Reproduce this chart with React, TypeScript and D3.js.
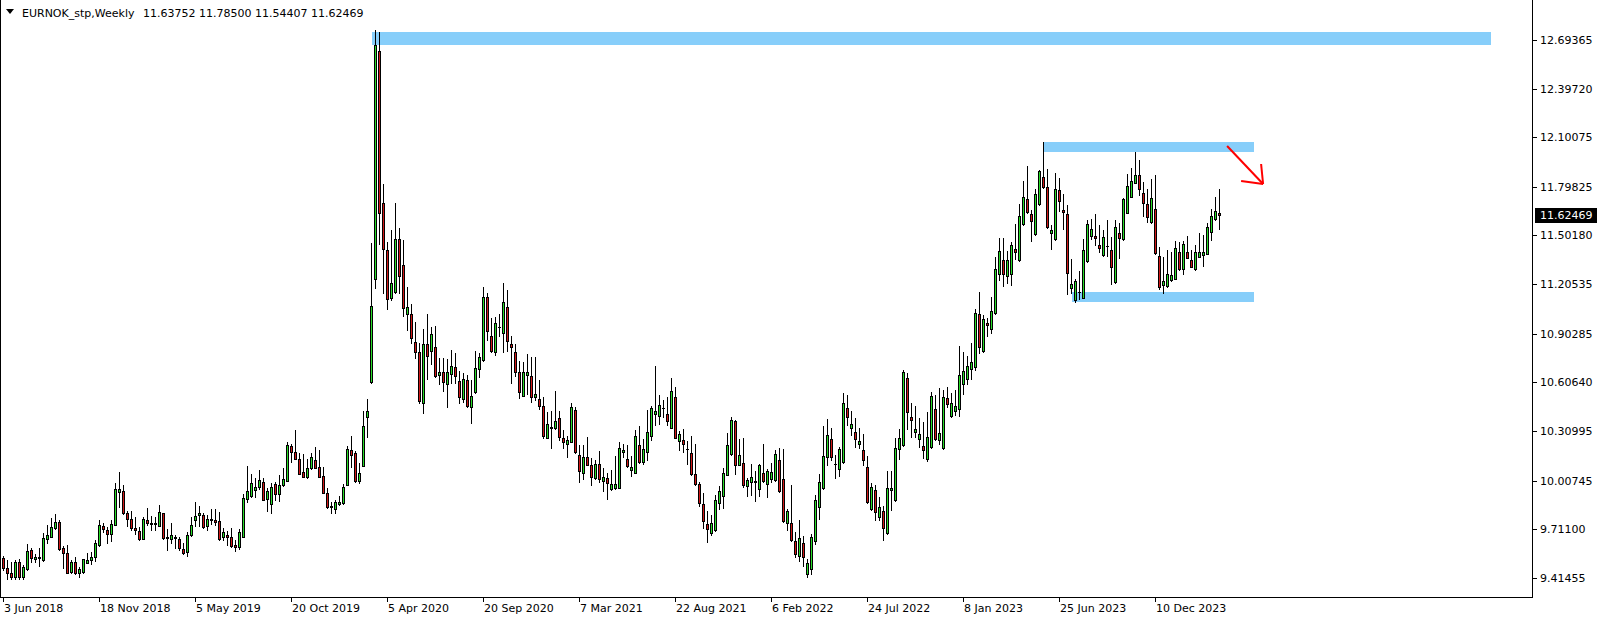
import React from 'react';
import * as d3 from 'd3';

const OPEN = [9.534,9.473,9.443,9.423,9.510,9.423,9.469,9.583,9.528,9.536,9.524,9.650,9.666,9.717,9.754,9.595,9.565,9.453,9.514,9.443,9.449,9.508,9.522,9.540,9.614,9.731,9.705,9.681,9.740,9.941,9.943,9.809,9.772,9.717,9.701,9.654,9.768,9.750,9.746,9.734,9.809,9.658,9.650,9.660,9.650,9.589,9.571,9.675,9.768,9.798,9.796,9.733,9.770,9.766,9.760,9.666,9.677,9.662,9.616,9.605,9.666,9.894,9.916,9.953,9.971,9.997,9.894,9.868,9.987,9.928,9.979,10.008,10.219,10.182,10.140,10.060,10.032,10.085,10.136,10.091,10.034,9.933,9.853,9.837,9.866,9.870,9.983,10.195,10.174,10.008,10.099,10.398,10.611,11.235,12.626,11.702,11.413,11.123,11.159,11.478,11.322,11.021,11.021,10.851,10.790,10.483,10.841,10.800,10.820,10.649,10.672,10.597,10.656,10.698,10.615,10.503,10.621,10.455,10.546,10.686,10.743,11.125,10.889,10.794,10.942,10.906,11.068,10.840,10.790,10.668,10.526,10.652,10.643,10.516,10.505,10.463,10.270,10.330,10.327,10.388,10.266,10.233,10.245,10.438,10.164,10.056,10.150,10.103,10.024,10.109,10.008,10.022,9.959,9.965,9.965,10.182,10.140,10.075,10.056,10.223,10.121,10.180,10.282,10.412,10.404,10.450,10.414,10.331,10.516,10.251,10.256,10.203,10.176,10.046,9.987,9.865,9.744,9.687,9.707,9.874,9.916,10.044,10.170,10.371,10.105,10.115,9.977,9.998,10.002,9.959,10.052,9.985,10.020,10.014,10.134,10.018,9.752,9.748,9.638,9.550,9.626,9.440,9.470,9.640,9.845,9.961,10.150,10.262,10.107,10.077,10.123,10.448,10.327,10.302,10.229,10.195,10.091,9.837,9.949,9.788,9.821,9.687,9.949,9.890,10.199,10.223,10.631,10.394,10.302,10.264,10.219,10.138,10.211,10.444,10.256,10.205,10.511,10.402,10.432,10.442,10.595,10.625,10.690,10.698,11.021,10.800,10.968,10.930,11.027,11.269,11.350,11.257,11.265,11.419,11.350,11.574,11.722,11.631,11.509,11.692,11.856,11.795,11.515,11.478,11.777,11.659,11.631,11.180,11.109,11.155,11.123,11.346,11.501,11.499,11.444,11.385,11.436,11.413,11.216,11.515,11.480,11.641,11.738,11.824,11.870,11.761,11.694,11.582,11.661,11.377,11.198,11.194,11.230,11.239,11.399,11.296,11.399,11.352,11.296,11.373,11.383,11.391,11.521,11.600,11.63752];
const HIGH = [9.548,9.524,9.514,9.524,9.530,9.492,9.622,9.595,9.561,9.595,9.687,9.738,9.778,9.805,9.768,9.612,9.614,9.524,9.545,9.484,9.530,9.565,9.575,9.646,9.768,9.748,9.727,9.768,9.993,10.061,9.979,9.823,9.823,9.788,9.727,9.788,9.841,9.792,9.788,9.862,9.813,9.713,9.748,9.677,9.666,9.626,9.697,9.788,9.878,9.855,9.811,9.796,9.835,9.835,9.817,9.717,9.703,9.719,9.646,9.711,9.924,10.097,10.050,10.022,10.073,10.022,9.965,9.995,10.002,10.042,10.083,10.245,10.231,10.316,10.174,10.170,10.140,10.174,10.211,10.195,10.089,9.961,9.880,9.890,9.914,9.987,10.217,10.280,10.191,10.113,10.432,10.503,11.458,12.754,12.744,11.813,11.464,11.535,11.702,11.545,11.474,11.190,11.084,10.977,10.849,10.932,11.023,10.942,10.950,10.753,10.753,10.749,10.804,10.788,10.678,10.662,10.652,10.621,10.800,10.784,11.190,11.153,10.997,11.007,11.023,11.214,11.170,10.889,10.838,10.737,10.733,10.780,10.759,10.763,10.621,10.520,10.426,10.432,10.554,10.432,10.316,10.280,10.479,10.459,10.225,10.225,10.272,10.144,10.134,10.188,10.083,10.052,10.073,10.158,10.243,10.231,10.223,10.158,10.316,10.341,10.260,10.438,10.463,10.707,10.530,10.499,10.516,10.631,10.578,10.312,10.323,10.249,10.278,10.231,10.002,9.930,9.823,9.796,9.920,9.977,10.085,10.296,10.398,10.375,10.264,10.266,10.022,10.107,10.069,10.109,10.231,10.077,10.117,10.193,10.207,10.203,9.833,9.979,9.697,9.768,9.670,9.530,9.680,9.920,10.046,10.341,10.383,10.327,10.164,10.211,10.544,10.530,10.434,10.388,10.327,10.292,10.158,9.995,9.981,9.910,9.853,10.067,10.069,10.270,10.323,10.682,10.662,10.479,10.463,10.388,10.367,10.428,10.546,10.530,10.570,10.560,10.578,10.540,10.560,10.828,10.790,10.767,10.844,11.052,11.155,11.017,11.001,11.127,11.371,11.486,11.484,11.407,11.462,11.572,11.694,11.832,11.925,11.657,11.785,11.901,12.071,11.905,11.566,11.880,11.850,11.754,11.688,11.356,11.239,11.285,11.480,11.596,11.602,11.633,11.566,11.535,11.596,11.495,11.596,11.576,11.728,11.876,11.911,12.013,11.962,11.830,11.783,11.844,11.870,11.434,11.373,11.413,11.401,11.466,11.464,11.470,11.499,11.413,11.444,11.515,11.505,11.580,11.661,11.734,11.78500];
const LOW = [9.463,9.406,9.406,9.406,9.406,9.406,9.463,9.514,9.514,9.490,9.520,9.630,9.662,9.711,9.585,9.477,9.443,9.447,9.437,9.423,9.447,9.504,9.500,9.518,9.610,9.697,9.630,9.642,9.736,9.849,9.805,9.734,9.707,9.683,9.646,9.650,9.736,9.707,9.707,9.734,9.652,9.585,9.626,9.599,9.585,9.559,9.551,9.670,9.734,9.733,9.717,9.707,9.742,9.738,9.646,9.646,9.616,9.605,9.581,9.591,9.662,9.880,9.906,9.906,9.959,9.890,9.825,9.809,9.892,9.884,9.975,10.006,10.123,10.138,10.046,10.028,10.026,10.081,10.083,10.028,9.930,9.841,9.813,9.813,9.859,9.866,9.979,10.093,10.002,9.995,10.095,10.276,10.605,11.184,11.448,11.153,11.052,11.109,11.153,11.149,11.011,10.926,10.849,10.757,10.483,10.422,10.625,10.717,10.641,10.597,10.556,10.459,10.605,10.601,10.483,10.489,10.455,10.361,10.540,10.641,10.739,10.865,10.794,10.774,10.889,10.794,10.800,10.605,10.646,10.509,10.524,10.536,10.489,10.499,10.442,10.266,10.266,10.209,10.323,10.256,10.205,10.150,10.241,10.178,10.002,10.016,10.101,9.981,10.016,9.999,9.947,9.894,9.951,9.955,9.961,10.154,10.089,10.036,10.052,10.117,10.109,10.134,10.256,10.347,10.353,10.398,10.347,10.327,10.266,10.195,10.184,10.111,10.042,9.981,9.853,9.717,9.636,9.677,9.703,9.833,9.839,10.040,10.164,10.048,10.101,9.971,9.914,9.918,9.884,9.914,10.000,9.910,10.002,10.008,9.941,9.758,9.707,9.642,9.540,9.520,9.490,9.420,9.440,9.620,9.772,9.957,10.103,10.134,10.022,10.036,10.113,10.347,10.286,10.211,10.205,10.103,9.870,9.829,9.768,9.768,9.646,9.683,9.829,9.886,10.138,10.219,10.320,10.276,10.276,10.215,10.144,10.130,10.207,10.256,10.231,10.203,10.459,10.393,10.408,10.402,10.536,10.597,10.629,10.682,10.784,10.794,10.889,10.909,11.023,11.230,11.194,11.210,11.200,11.356,11.348,11.566,11.637,11.470,11.505,11.688,11.791,11.545,11.417,11.474,11.653,11.543,11.143,11.149,11.094,11.113,11.119,11.342,11.478,11.444,11.403,11.377,11.377,11.204,11.210,11.367,11.474,11.637,11.734,11.820,11.748,11.623,11.586,11.580,11.389,11.178,11.149,11.190,11.226,11.235,11.294,11.267,11.363,11.308,11.291,11.369,11.318,11.389,11.474,11.596,11.54407];
const CLOSE = [9.473,9.447,9.423,9.510,9.423,9.480,9.577,9.538,9.542,9.540,9.656,9.677,9.725,9.754,9.589,9.569,9.447,9.510,9.443,9.469,9.528,9.522,9.545,9.626,9.736,9.715,9.681,9.742,9.955,9.955,9.809,9.776,9.717,9.707,9.654,9.772,9.752,9.746,9.748,9.815,9.656,9.664,9.675,9.664,9.595,9.565,9.675,9.736,9.792,9.809,9.723,9.774,9.774,9.756,9.654,9.693,9.666,9.612,9.605,9.695,9.902,9.943,9.991,9.969,10.012,9.892,9.945,9.967,9.928,9.981,10.020,10.225,10.184,10.142,10.050,10.030,10.085,10.152,10.087,10.032,9.935,9.845,9.849,9.876,9.876,9.967,10.201,10.166,10.004,10.052,10.339,10.434,11.072,12.663,11.641,11.421,11.113,11.210,11.478,11.255,11.058,11.064,10.879,10.794,10.495,10.841,10.767,10.902,10.645,10.668,10.611,10.668,10.706,10.645,10.520,10.625,10.465,10.524,10.692,10.759,11.125,10.922,10.800,10.966,10.946,11.094,10.861,10.824,10.672,10.550,10.668,10.668,10.516,10.534,10.465,10.282,10.351,10.334,10.369,10.272,10.245,10.256,10.455,10.184,10.069,10.150,10.105,10.028,10.109,10.020,10.028,9.991,9.987,9.985,10.205,10.195,10.099,10.089,10.278,10.123,10.201,10.302,10.449,10.432,10.467,10.452,10.373,10.554,10.270,10.290,10.233,10.201,10.048,9.987,9.874,9.764,9.715,9.748,9.890,9.945,10.054,10.225,10.377,10.105,10.164,9.983,10.010,10.030,10.006,10.101,10.004,10.067,10.058,10.168,9.947,9.762,9.821,9.646,9.560,9.656,9.540,9.508,9.662,9.890,9.998,10.158,10.286,10.154,10.109,10.201,10.479,10.394,10.353,10.264,10.249,10.132,9.876,9.969,9.815,9.845,9.721,9.961,9.963,10.205,10.266,10.668,10.428,10.375,10.320,10.290,10.193,10.274,10.522,10.260,10.298,10.520,10.473,10.479,10.463,10.650,10.676,10.704,10.731,11.027,10.824,10.991,10.954,11.040,11.295,11.405,11.269,11.350,11.442,11.403,11.618,11.734,11.643,11.592,11.753,11.895,11.795,11.553,11.533,11.783,11.710,11.643,11.275,11.206,11.226,11.159,11.411,11.570,11.541,11.489,11.423,11.490,11.440,11.308,11.551,11.484,11.722,11.803,11.834,11.870,11.787,11.702,11.612,11.728,11.393,11.186,11.224,11.265,11.259,11.425,11.298,11.448,11.367,11.312,11.399,11.401,11.399,11.551,11.621,11.651,11.62469];

const Y_TICKS = [12.69365, 12.39720, 12.10075, 11.79825, 11.50180, 11.20535, 10.90285, 10.60640, 10.30995, 10.00745, 9.71100, 9.41455];
const X_TICK_LABELS = ['3 Jun 2018', '18 Nov 2018', '5 May 2019', '20 Oct 2019', '5 Apr 2020', '20 Sep 2020', '7 Mar 2021', '22 Aug 2021', '6 Feb 2022', '24 Jul 2022', '8 Jan 2023', '25 Jun 2023', '10 Dec 2023'];
const X_TICK_BARS = [0, 24, 48, 72, 96, 120, 144, 168, 192, 216, 240, 264, 288];

const ZONE_FROM = [92, 260, 267];
const ZONE_TO = [371.8, 312.7, 312.7];
const ZONE_TOP = [12.742, 12.071, 11.157];
const ZONE_BOTTOM = [12.663, 12.0105, 11.0965];

const ARROW_FROM = { bar: 305.9, price: 12.047 };
const ARROW_TO = { bar: 314.9, price: 11.8155 };

const SYMBOL = 'EURNOK_stp,Weekly';
const LAST_BAR = [11.63752, 11.785, 11.54407, 11.62469];

const W = 1604;
const H = 621;
const FRAME_RIGHT = 1532;
const FRAME_BOTTOM = 597;
const FONT = 'DejaVu Sans, Verdana, sans-serif';
const BULL = '#28dc28';
const BEAR = '#d01818';
const ZONE = '#87cefa';

export default function App() {
  const x = d3.scaleLinear().domain([0, 1]).range([3.5, 7.5]);
  const y = d3.scaleLinear().domain([9.41455, 12.69365]).range([578.0, 39.9]);
  const last = CLOSE[CLOSE.length - 1];

  const candles = OPEN.map((o, i) => {
    const c = CLOSE[i];
    const cx = x(i);
    const yH = Math.round(y(HIGH[i]));
    const yL = Math.round(y(LOW[i]));
    const top = Math.round(y(Math.max(o, c)));
    const bot = Math.round(y(Math.min(o, c)));
    const h = Math.max(1, bot - top + 1);
    const bull = c >= o;
    return (
      <g key={i}>
        <line x1={cx} x2={cx} y1={yH} y2={yL + 1} stroke="#000" strokeWidth={1} />
        <rect x={cx - 1.5} y={top} width={3} height={h} fill="#000" />
        {h > 2 && <rect x={cx - 0.5} y={top + 1} width={1} height={h - 2} fill={bull ? BULL : BEAR} />}
      </g>
    );
  });

  const ax = x(ARROW_FROM.bar), ay = y(ARROW_FROM.price);
  const bx = x(ARROW_TO.bar), by = y(ARROW_TO.price);

  return (
    <svg width={W} height={H} style={{ position: 'absolute', left: 0, top: 0, background: '#fff' }} shapeRendering="crispEdges">
      <rect x={0} y={0} width={W} height={H} fill="#fff" />
      {ZONE_FROM.map((f, i) => (
        <rect key={'z' + i} x={x(f)} y={y(ZONE_TOP[i])} width={x(ZONE_TO[i]) - x(f)} height={y(ZONE_BOTTOM[i]) - y(ZONE_TOP[i])} fill={ZONE} />
      ))}
      {candles}
      <g stroke="#ff0000" strokeWidth={2} fill="none" shapeRendering="auto">
        <line x1={ax} y1={ay} x2={bx} y2={by} />
        <line x1={bx} y1={by} x2={bx - 22} y2={by - 3} />
        <line x1={bx} y1={by} x2={bx - 2} y2={by - 20} />
      </g>
      <line x1={0.5} y1={0} x2={0.5} y2={FRAME_BOTTOM} stroke="#000" />
      <line x1={FRAME_RIGHT + 0.5} y1={0} x2={FRAME_RIGHT + 0.5} y2={FRAME_BOTTOM + 1} stroke="#000" />
      <line x1={0} y1={FRAME_BOTTOM + 0.5} x2={FRAME_RIGHT + 1} y2={FRAME_BOTTOM + 0.5} stroke="#000" />
      {Y_TICKS.map((t) => (
        <g key={'y' + t}>
          <line x1={FRAME_RIGHT + 1} x2={FRAME_RIGHT + 5} y1={Math.round(y(t)) + 0.5} y2={Math.round(y(t)) + 0.5} stroke="#000" />
          <text x={FRAME_RIGHT + 8} y={y(t)} dy="0.36em" fontFamily={FONT} fontSize={11} fill="#000">{t.toFixed(5)}</text>
        </g>
      ))}
      <rect x={FRAME_RIGHT + 3} y={Math.round(y(last)) - 7} width={62} height={15} fill="#000" />
      <text x={FRAME_RIGHT + 8} y={y(last)} dy="0.36em" fontFamily={FONT} fontSize={11} fill="#fff">{last.toFixed(5)}</text>
      {X_TICK_BARS.map((b, i) => (
        <g key={'x' + b}>
          <line x1={Math.floor(x(b)) + 0.5} x2={Math.floor(x(b)) + 0.5} y1={FRAME_BOTTOM + 1} y2={FRAME_BOTTOM + 5} stroke="#000" />
          <text x={Math.floor(x(b)) + 1} y={FRAME_BOTTOM + 15} fontFamily={FONT} fontSize={11} fill="#000">{X_TICK_LABELS[i]}</text>
        </g>
      ))}
      <path d="M6,9 L14,9 L10,14 Z" fill="#000" shapeRendering="auto" />
      <text x={22} y={17} fontFamily={FONT} fontSize={11} fill="#000">{SYMBOL}</text>
      <text x={143} y={17} fontFamily={FONT} fontSize={11} fill="#000">{LAST_BAR.map((v) => v.toFixed(5)).join(' ')}</text>
    </svg>
  );
}
